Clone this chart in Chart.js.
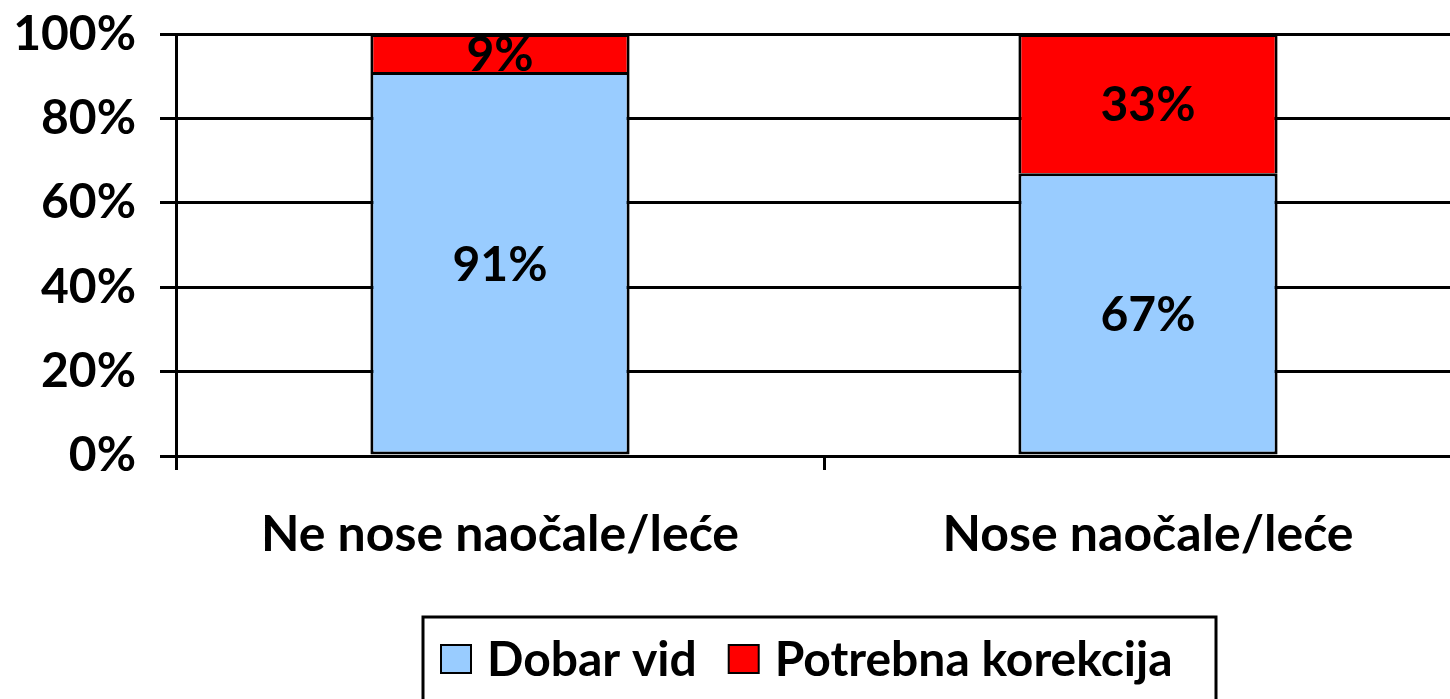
<!DOCTYPE html>
<html>
<head>
<meta charset="utf-8">
<script src="https://cdn.jsdelivr.net/npm/chart.js@4"></script>
<style>
html, body { margin: 0; padding: 0; background: #fff; overflow: hidden; }
</style>
</head>
<body>
<canvas id="chart" width="1480" height="699"></canvas>
<script>
var categories = ['Ne nose naočale/leće', 'Nose naočale/leće'];
var seriesNames = ['Dobar vid', 'Potrebna korekcija'];
var dobarVid = [91, 67];
var potrebnaKorekcija = [9, 33];
var seriesColors = ['#99CCFF', '#FF0000'];

var fontFamily = 'Lato, "Open Sans", sans-serif';
var fontSize = 48;

/* value labels in the middle of each segment */
var valueLabels = {
	id: 'valueLabels',
	afterDatasetsDraw: function(chart) {
		var ctx = chart.ctx;
		ctx.save();
		ctx.font = 'bold ' + fontSize + 'px ' + fontFamily;
		ctx.fillStyle = '#000';
		ctx.textAlign = 'center';
		ctx.textBaseline = 'middle';
		chart.data.datasets.forEach(function(dataset, i) {
			var meta = chart.getDatasetMeta(i);
			meta.data.forEach(function(bar, j) {
				var y = (bar.y + bar.base) / 2;
				ctx.fillText(dataset.data[j] + '%', bar.x, y + 2);
			});
		});
		ctx.restore();
	}
};

/* legend with frame, like the original */
var frameLegend = {
	id: 'frameLegend',
	afterDraw: function(chart) {
		var ctx = chart.ctx;
		ctx.save();
		ctx.lineWidth = 3;
		ctx.strokeStyle = '#000';
		ctx.strokeRect(423, 617, 793, 120);
		ctx.font = 'bold ' + fontSize + 'px ' + fontFamily;
		ctx.textBaseline = 'middle';
		ctx.textAlign = 'left';
		var x = 441;
		chart.data.datasets.forEach(function(dataset) {
			ctx.fillStyle = dataset.backgroundColor;
			ctx.fillRect(x, 645, 30, 28);
			ctx.lineWidth = 2;
			ctx.strokeRect(x, 645, 30, 28);
			ctx.fillStyle = '#000';
			ctx.fillText(dataset.label, x + 46, 661);
			x = x + 46 + ctx.measureText(dataset.label).width + 32;
		});
		ctx.restore();
	}
};

var context = document.getElementById('chart').getContext('2d');
var chart = new Chart(context, {
	type: 'bar',
	data: {
		labels: categories,
		datasets: [
			{ label: seriesNames[0], data: dobarVid, backgroundColor: seriesColors[0], borderColor: '#000', borderWidth: 3, borderSkipped: false },
			{ label: seriesNames[1], data: potrebnaKorekcija, backgroundColor: seriesColors[1], borderColor: '#000', borderWidth: 3, borderSkipped: 'bottom' }
		]
	},
	options: {
		responsive: false,
		animation: false,
		layout: { padding: { top: 0, right: 8, bottom: 123, left: 0 } },
		plugins: { legend: { display: false }, tooltip: { enabled: false } },
		datasets: { bar: { barPercentage: 1, categoryPercentage: 0.4 } },
		scales: {
			x: {
				stacked: true,
				afterFit: function(scale) { scale.height = 120; },
				grid: { offset: true, drawOnChartArea: false, color: '#000', lineWidth: 3, tickLength: 14 },
				border: { color: '#000', width: 3 },
				ticks: { color: '#000', padding: 35, font: { family: fontFamily, size: 50, weight: 'bold' } }
			},
			y: {
				stacked: true,
				min: 0,
				max: 100,
				afterFit: function(scale) { scale.width = 176; },
				grid: { color: '#000', lineWidth: 3, tickLength: 16 },
				border: { color: '#000', width: 3 },
				ticks: {
					stepSize: 20,
					color: '#000',
					padding: 24,
					font: { family: fontFamily, size: fontSize, weight: 'bold', lineHeight: 0.42 },
					callback: function(value) { return value + '%'; }
				}
			}
		}
	},
	plugins: [valueLabels, frameLegend]
});
</script>
</body>
</html>
